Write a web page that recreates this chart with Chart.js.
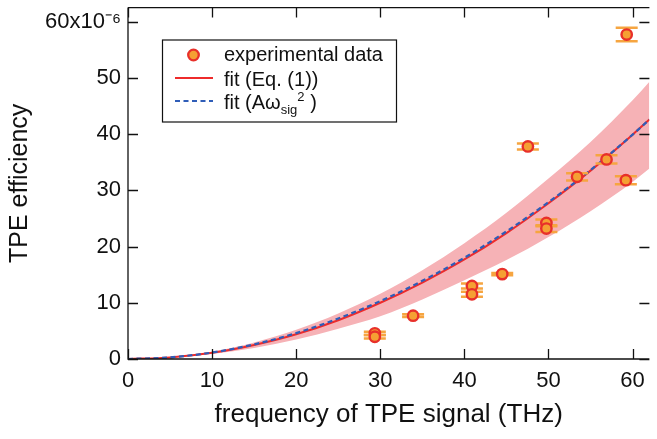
<!DOCTYPE html>
<html><head><meta charset="utf-8">
<script src="https://cdn.jsdelivr.net/npm/chart.js@4/dist/chart.umd.min.js"></script>
<style>html,body{margin:0;padding:0;background:#fff;}#wrap{width:657px;height:439px;position:relative;}</style>
</head><body><div id="wrap"><canvas id="c" width="657" height="439"></canvas></div>
<script>
// ---- data ----
const freqGrid   = [0, 5, 10, 15, 20, 25, 30, 35, 40, 45, 50, 55, 60, 62];
const fitEq1     = [0, 0.28, 1.1, 2.5, 4.4, 6.9, 10.0, 13.6, 17.7, 22.4, 27.7, 33.5, 39.9, 42.6];
const fitQuad    = [0, 0.29, 1.15, 2.6, 4.6, 7.2, 10.3, 13.9, 18.0, 22.7, 27.9, 33.6, 39.9, 42.6];
const bandUpper  = [0, 0.33, 1.3, 2.95, 5.2, 8.1, 11.6, 15.8, 20.6, 26.0, 32.1, 38.6, 46.0, 49.3];
const bandLower  = [0, 0.22, 0.87, 1.95, 3.45, 5.4, 7.6, 10.6, 14.0, 17.6, 21.7, 26.3, 31.5, 33.9];
const expFreq    = [29.35, 29.35, 33.9, 40.9, 40.9, 44.5, 47.55, 49.75, 49.75, 53.4, 56.9, 59.2, 59.3];
const expEff     = [4.56, 3.96, 7.7, 13.0, 11.5, 15.1, 37.8, 24.2, 23.2, 32.4, 35.5, 31.8, 57.7];
const expErr     = [0.3, 0.3, 0.25, 0.45, 0.45, 0.2, 0.55, 0.6, 0.6, 0.65, 0.75, 0.7, 1.2];
const xTicks     = [0, 10, 20, 30, 40, 50, 60];
const yTicks     = [0, 10, 20, 30, 40, 50, 60];
const xTitle     = 'frequency of TPE signal (THz)';
const yTitle     = 'TPE efficiency';
const legendTexts = ['experimental data', 'fit (Eq. (1))'];

const pts = (xs, ys) => xs.map((v, i) => ({x: v, y: ys[i]}));

const COL_MARK = '#F5A033', COL_MARK_B = '#E8302A', COL_ERR = '#F6A540';
const COL_RED = '#EE2B2B', COL_BLUE = '#2F5DB8', COL_BAND = 'rgba(246,178,182,1)';
const FONT = "'Liberation Sans', Arial, sans-serif";

const errorBars = {
  id: 'errorBars',
  beforeDatasetDraw(chart, args) {
    if (args.index !== 0) return;
    const {ctx, scales: {x, y}} = chart;
    ctx.save();
    ctx.strokeStyle = COL_ERR; ctx.lineWidth = 2.5;
    expFreq.forEach((f, i) => {
      const px = x.getPixelForValue(f);
      const y1 = y.getPixelForValue(expEff[i] + expErr[i]);
      const y2 = y.getPixelForValue(expEff[i] - expErr[i]);
      ctx.beginPath();
      ctx.moveTo(px, y1); ctx.lineTo(px, y2);
      ctx.moveTo(px - 11, y1); ctx.lineTo(px + 11, y1);
      ctx.moveTo(px - 11, y2); ctx.lineTo(px + 11, y2);
      ctx.stroke();
    });
    ctx.restore();
  }
};

const frame = {
  id: 'frame',
  afterDatasetsDraw(chart) {
    const {ctx, chartArea: a, scales: {x, y}} = chart;
    ctx.save();
    ctx.strokeStyle = '#111'; ctx.lineWidth = 1.3;
    ctx.beginPath();
    ctx.moveTo(a.left, a.top); ctx.lineTo(a.left, a.bottom); ctx.lineTo(a.right, a.bottom);
    ctx.moveTo(a.left, a.top); ctx.lineTo(a.right, a.top);
    const T = 10;
    xTicks.forEach(v => {
      const px = Math.round(x.getPixelForValue(v)) + 0.5;
      ctx.moveTo(px, a.bottom); ctx.lineTo(px, a.bottom - T);
      ctx.moveTo(px, a.top); ctx.lineTo(px, a.top + T);
    });
    yTicks.forEach(v => {
      const py = Math.round(y.getPixelForValue(v)) + 0.5;
      ctx.moveTo(a.left, py); ctx.lineTo(a.left + T, py);
      ctx.moveTo(a.right, py); ctx.lineTo(a.right - T, py);
    });
    ctx.stroke();
    ctx.restore();
  }
};

const legendBox = {
  id: 'legendBox',
  afterDraw(chart) {
    const ctx = chart.ctx;
    ctx.save();
    const L = 162, T = 39.5, W = 234, H = 82;
    ctx.fillStyle = '#fff'; ctx.fillRect(L, T, W, H);
    ctx.strokeStyle = '#111'; ctx.lineWidth = 1.2; ctx.strokeRect(L + 0.5, T + 0.5, W, H);
    const fs = 20;
    ctx.font = fs + 'px ' + FONT; ctx.fillStyle = '#111'; ctx.textBaseline = 'alphabetic';
    const tx = 224;
    ctx.beginPath(); ctx.arc(193.5, 55, 5.3, 0, Math.PI * 2);
    ctx.fillStyle = COL_MARK; ctx.fill(); ctx.lineWidth = 2.3; ctx.strokeStyle = COL_MARK_B; ctx.stroke();
    ctx.fillStyle = '#111';
    ctx.fillText(legendTexts[0], tx, 61);
    ctx.beginPath(); ctx.moveTo(175, 78); ctx.lineTo(213, 78);
    ctx.strokeStyle = COL_RED; ctx.lineWidth = 2; ctx.stroke();
    ctx.fillText(legendTexts[1], tx, 86);
    ctx.beginPath(); ctx.setLineDash([5, 3.5]); ctx.moveTo(175, 101); ctx.lineTo(213, 101);
    ctx.strokeStyle = COL_BLUE; ctx.lineWidth = 2; ctx.stroke(); ctx.setLineDash([]);
    let cx = tx; const by = 109;
    const part = (s, f, dy) => { ctx.font = f + 'px ' + FONT; ctx.fillText(s, cx, by + dy); cx += ctx.measureText(s).width; };
    part('fit (A\u03C9', fs, 0);
    part('sig', 13, 5);
    part('2', 13, -8);
    part(' )', fs, 0);
    ctx.restore();
  }
};

new Chart(document.getElementById('c'), {
  type: 'line',
  data: {
    datasets: [
      {type: 'scatter', label: legendTexts[0], data: pts(expFreq, expEff),
       pointRadius: 5.2, pointBorderWidth: 2.4, pointBackgroundColor: COL_MARK, pointBorderColor: COL_MARK_B, showLine: false},
      {label: 'fit (Aw_sig^2)', data: pts(freqGrid, fitQuad), borderColor: COL_BLUE, borderWidth: 2.2,
       borderDash: [5, 3.5], pointRadius: 0, fill: false, cubicInterpolationMode: 'monotone'},
      {label: legendTexts[1], data: pts(freqGrid, fitEq1), borderColor: COL_RED, borderWidth: 2,
       pointRadius: 0, fill: false, cubicInterpolationMode: 'monotone'},
      {label: 'upper', data: pts(freqGrid, bandUpper), borderWidth: 0, borderColor: 'rgba(0,0,0,0)',
       backgroundColor: COL_BAND, pointRadius: 0, fill: '+1', cubicInterpolationMode: 'monotone'},
      {label: 'lower', data: pts(freqGrid, bandLower), borderWidth: 0, borderColor: 'rgba(0,0,0,0)',
       pointRadius: 0, fill: false, cubicInterpolationMode: 'monotone'}
    ]
  },
  options: {
    responsive: false, animation: false, devicePixelRatio: 1,
    layout: {padding: {top: 7, right: 0, left: 0, bottom: 0}},
    plugins: {legend: {display: false}, tooltip: {enabled: false}},
    scales: {
      x: {type: 'linear', min: 0, max: 62,
          afterBuildTicks: s => { s.ticks = xTicks.map(v => ({value: v})); },
          afterFit: s => { s.height = 80; s.paddingLeft = 0; s.paddingRight = 0; },
          grid: {display: false, drawTicks: false}, border: {display: false},
          ticks: {color: '#111', font: {family: FONT, size: 22}, padding: 9, maxRotation: 0},
          title: {display: true, text: xTitle, color: '#111', font: {family: FONT, size: 26}, padding: {top: 0, bottom: 9}}},
      y: {type: 'linear', min: 0, max: 62.5,
          afterBuildTicks: s => { s.ticks = yTicks.map(v => ({value: v})); },
          afterFit: s => { s.width = 128; s.paddingTop = 0; s.paddingBottom = 0; },
          grid: {display: false, drawTicks: false}, border: {display: false},
          ticks: {color: '#111', font: {family: FONT, size: 22}, padding: 7,
                  callback: v => v === 60 ? '60x10\u207B\u2076' : String(v)},
          title: {display: true, text: yTitle, color: '#111', font: {family: FONT, size: 25}, padding: {top: 5, bottom: 0}}}
    }
  },
  plugins: [errorBars, frame, legendBox]
});
</script></body></html>
